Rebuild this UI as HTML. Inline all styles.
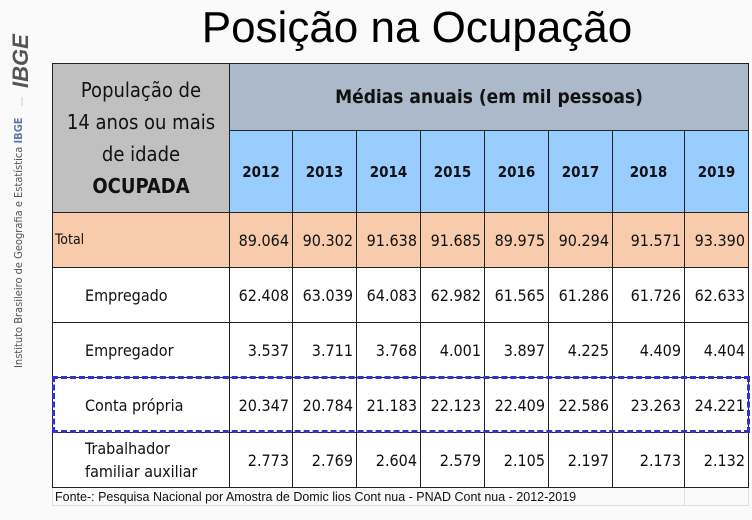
<!DOCTYPE html>
<html><head><meta charset="utf-8"><style>
body{margin:0;width:752px;height:520px;background:#fafafa;font-family:"Liberation Sans",sans-serif;position:relative;overflow:hidden}
.a{position:absolute}
table{position:absolute;left:52px;top:63px;border-collapse:collapse;font-family:"DejaVu Sans Condensed","Liberation Sans",sans-serif}
td{border:1.5px solid #222;padding:0;font-size:16px;color:#111}
.n{text-align:right;padding-right:3px;background:#fff}
.lab{background:#fff;padding-left:32px;font-size:16px}
.tot td{background:#f8cbad}
.yr{background:#99ccff;font-weight:bold;text-align:center;font-size:15px}
</style></head><body>
<div class="a" style="left:0;width:834px;top:3px;text-align:center;font-size:44px;color:#000">Posição na Ocupação</div>
<svg class="a" style="left:0;top:0" width="40" height="380">
<text transform="translate(28,88) rotate(-90)" font-size="22" font-weight="bold" font-style="italic" fill="#555" font-family="Liberation Sans">IBGE</text>
<line x1="22" y1="97" x2="22" y2="106" stroke="#ccc"/>
<text transform="translate(22,368) rotate(-90)" font-size="11" fill="#555" font-family="DejaVu Sans Condensed,Liberation Sans">Instituto Brasileiro de Geografia e Estatística <tspan fill="#6677aa" font-weight="bold">IBGE</tspan></text>
</svg>
<table>
<colgroup><col style="width:177px"><col style="width:63px"><col style="width:64px"><col style="width:64px"><col style="width:64px"><col style="width:64px"><col style="width:64px"><col style="width:72px"><col style="width:64px"></colgroup>
<tr style="height:67px"><td rowspan="2" style="background:#c0c0c0;text-align:center;font-size:20px;line-height:32px;font-family:'DejaVu Sans Condensed','Liberation Sans',sans-serif">População de<br>14 anos ou mais<br>de idade<br><b>OCUPADA</b></td>
<td colspan="8" style="background:#acb9ca;text-align:center;font-weight:bold;font-size:19px">Médias anuais (em mil pessoas)</td></tr>
<tr style="height:82px"><td class="yr">2012</td><td class="yr">2013</td><td class="yr">2014</td><td class="yr">2015</td><td class="yr">2016</td><td class="yr">2017</td><td class="yr">2018</td><td class="yr">2019</td></tr>
<tr class="tot" style="height:55px"><td style="padding-left:2px;font-size:14px">Total</td><td class="n">89.064</td><td class="n">90.302</td><td class="n">91.638</td><td class="n">91.685</td><td class="n">89.975</td><td class="n">90.294</td><td class="n">91.571</td><td class="n">93.390</td></tr>
<tr style="height:55px"><td class="lab">Empregado</td><td class="n">62.408</td><td class="n">63.039</td><td class="n">64.083</td><td class="n">62.982</td><td class="n">61.565</td><td class="n">61.286</td><td class="n">61.726</td><td class="n">62.633</td></tr>
<tr style="height:55px"><td class="lab">Empregador</td><td class="n">3.537</td><td class="n">3.711</td><td class="n">3.768</td><td class="n">4.001</td><td class="n">3.897</td><td class="n">4.225</td><td class="n">4.409</td><td class="n">4.404</td></tr>
<tr style="height:55px"><td class="lab">Conta própria</td><td class="n">20.347</td><td class="n">20.784</td><td class="n">21.183</td><td class="n">22.123</td><td class="n">22.409</td><td class="n">22.586</td><td class="n">23.263</td><td class="n">24.221</td></tr>
<tr style="height:55px"><td class="lab" style="line-height:23px">Trabalhador<br>familiar auxiliar</td><td class="n">2.773</td><td class="n">2.769</td><td class="n">2.604</td><td class="n">2.579</td><td class="n">2.105</td><td class="n">2.197</td><td class="n">2.173</td><td class="n">2.132</td></tr>
<tr style="height:18px"><td colspan="8" style="border:1px solid #ddd;font-size:12.5px;font-family:'Liberation Sans',sans-serif;padding-left:2px;background:#fafafa">Fonte-: Pesquisa Nacional por Amostra de Domic lios Cont nua - PNAD Cont nua - 2012-2019</td><td style="border:1px solid #ddd;background:#fafafa"></td></tr>
</table>
<div class="a" style="left:52px;top:376px;width:692px;height:51px;border:3px dashed #3333cc"></div>
</body></html>
